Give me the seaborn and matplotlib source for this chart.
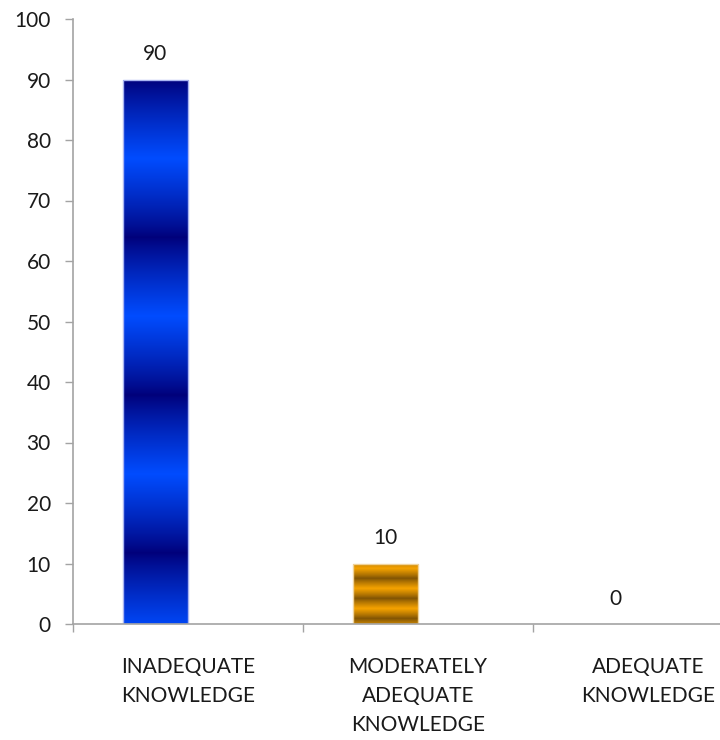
import numpy as np
import pandas as pd
import matplotlib
matplotlib.use("Agg")
import matplotlib.pyplot as plt
import seaborn as sns
from matplotlib.colors import to_rgb

# Knowledge level categories and the percentage of respondents in each
categories = ["INADEQUATE\nKNOWLEDGE", "MODERATELY\nADEQUATE\nKNOWLEDGE", "ADEQUATE\nKNOWLEDGE"]
percentages = [90, 10, 0]
y_ticks = list(range(0, 101, 10))

# Striped fill of each bar: (dark, bright) band colours, band period and phase
band_colours = [("#00007A", "#004CFF"), ("#7E5204", "#F6A300"), ("#7E5204", "#F6A300")]
band_period = [0.29, 0.33, 0.33]
band_phase = [0.0, 0.08, 0.08]
edge_colours = ["#A9B5F2", "#F0D39A", "#F0D39A"]

sns.set_theme(style="white")
plt.rcParams["font.family"] = ["Lato", "DejaVu Sans"]
text_colour = "#1A1A1A"
axis_grey = "#A3A3A3"

# second (empty) series keeps the clustered layout, so the bars sit left of centre
df = pd.DataFrame({
    "category": categories + categories,
    "value": percentages + [np.nan] * len(categories),
    "series": ["Percentage"] * len(categories) + ["Spare"] * len(categories),
})

fig = plt.figure(figsize=(7.2, 7.4), dpi=100)
ax = fig.add_axes([73 / 720, 116 / 740, 1 - 73 / 720, 605 / 740])

sns.barplot(data=df, x="category", y="value", hue="series",
            hue_order=["Percentage", "Spare"], order=categories,
            palette={"Percentage": "#004CFF", "Spare": "#F6A300"},
            width=0.566, dodge=True, legend=False, errorbar=None, ax=ax)

bars = ax.containers[0]


def stripe_fill(bar, dark, bright, period, phase):
    x0, y0 = bar.get_x(), bar.get_y()
    w, h = bar.get_width(), bar.get_height()
    f = np.linspace(0, 1, 600)  # fraction measured from the bar top
    # triangular wave: 0 at the dark band centres, 1 at the bright ones
    u = ((f + phase) / period) % 1.0
    t = 1 - np.abs(2 * u - 1)
    t = t ** 0.85
    d, b = np.array(to_rgb(dark)), np.array(to_rgb(bright))
    rgb = d + (b - d) * t[:, None]
    img = ax.imshow(np.repeat(rgb[:, None, :], 2, axis=1),
                    extent=(x0, x0 + w, y0, y0 + h), origin="upper",
                    aspect="auto", interpolation="bilinear",
                    zorder=bar.get_zorder() - 0.1)
    img.set_clip_path(bar)


for i, bar in enumerate(bars):
    if bar.get_height() > 0:
        stripe_fill(bar, *band_colours[i], band_period[i], band_phase[i])
        bar.set_facecolor("none")
        bar.set_edgecolor(edge_colours[i])
        bar.set_linewidth(1.0)
    else:
        bar.set_facecolor("none")
        bar.set_edgecolor("none")

ax.bar_label(bars, labels=[f"{v:g}" for v in percentages], padding=11,
             fontsize=15, color=text_colour)

ax.set_xlim(-0.5, (720 - 73) / 230 - 0.5)
ax.set_ylim(0, 100)
ax.set_yticks(y_ticks)
ax.set_yticklabels([str(v) for v in y_ticks])
ax.set_xticks(range(len(categories)))
ax.set_xticklabels(categories, linespacing=1.55)
ax.set_xticks([-0.5, 0.5, 1.5], minor=True)
ax.set_xlabel("")
ax.set_ylabel("")

ax.tick_params(axis="x", which="major", length=0, pad=24, labelsize=15,
               labelcolor=text_colour)
ax.tick_params(axis="x", which="minor", length=6, width=1, color=axis_grey,
               direction="out", bottom=True)
ax.tick_params(axis="y", length=6, width=1, color=axis_grey, direction="out",
               left=True, pad=10, labelsize=15, labelcolor=text_colour)
for lbl in ax.get_xticklabels():
    lbl.set_verticalalignment("top")

sns.despine(ax=ax, top=True, right=True)
for side in ("left", "bottom"):
    ax.spines[side].set_color(axis_grey)
    ax.spines[side].set_linewidth(1.2)

fig.savefig("out.png", dpi=100, facecolor="white")
